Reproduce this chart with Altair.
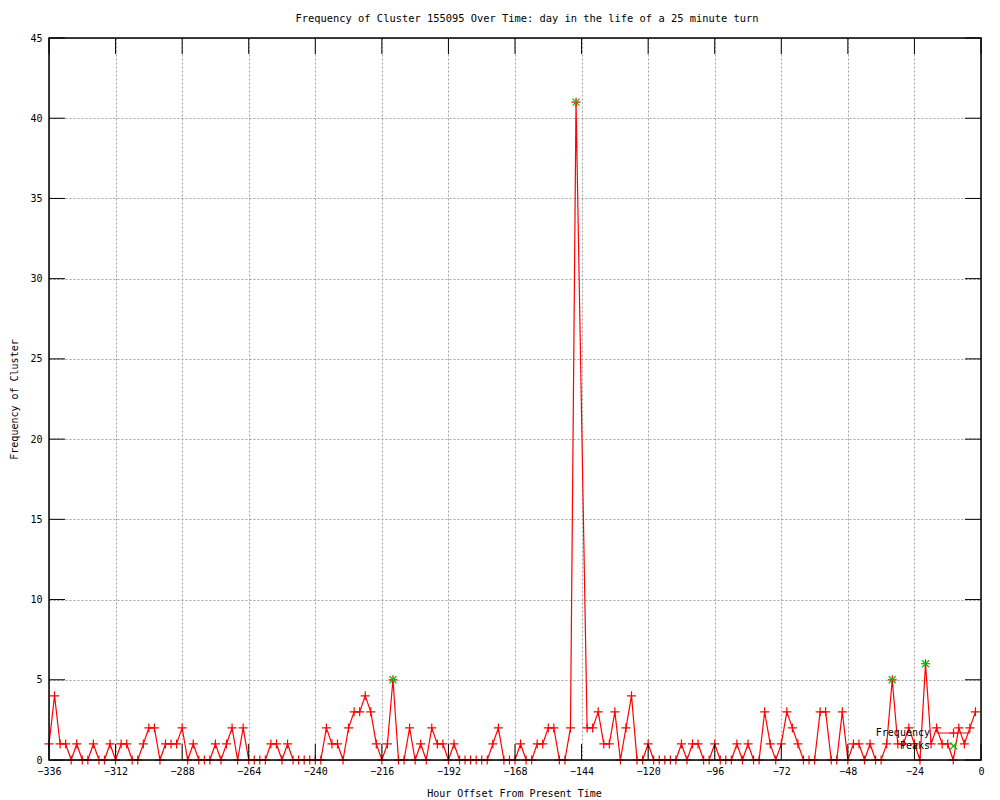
import altair as alt
import pandas as pd

# ---- data ----
hours = list(range(-336, 0, 2))
freq = [1, 4, 1, 1, 0, 1, 0, 0, 1, 0,
        0, 1, 0, 1, 1, 0, 0, 1, 2, 2,
        0, 1, 1, 1, 2, 0, 1, 0, 0, 0,
        1, 0, 1, 2, 0, 2, 0, 0, 0, 0,
        1, 1, 0, 1, 0, 0, 0, 0, 0, 0,
        2, 1, 1, 0, 2, 3, 3, 4, 3, 1,
        0, 1, 5, 0, 0, 2, 0, 1, 0, 2,
        1, 1, 0, 1, 0, 0, 0, 0, 0, 0,
        1, 2, 0, 0, 0, 1, 0, 0, 1, 1,
        2, 2, 0, 0, 2, 41, None, 2, 2, 3,
        1, 1, 3, 0, 2, 4, 0, 0, 1, 0,
        0, 0, 0, 0, 1, 0, 1, 1, 0, 0,
        1, 0, 0, 0, 1, 0, 1, 0, 0, 3,
        1, 0, 1, 3, 2, 1, 0, 0, 0, 3,
        3, 0, 0, 3, 0, 1, 1, 0, 1, 0,
        0, 1, 5, 1, 1, 2, 1, 0, 6, 1,
        2, 1, 1, 0, 2, 1, 2, 3]
peak_hours = [-212, -146, -32, -20]
peak_freq = [5, 41, 5, 6]
x_ticks = list(range(-336, 1, 24))
y_ticks = list(range(0, 46, 5))

title_text = "Frequency of Cluster 155095 Over Time: day in the life of a 25 minute turn"
x_title = "Hour Offset From Present Time"
y_title = "Frequency of Cluster"

W, H = 932, 722
FONT = "DejaVu Sans Mono"
RED = "#ff0000"
GREEN = "#00c000"
PLUS = "M-1,0L1,0M0,-1L0,1"
XSHAPE = "M-1,-1L1,1M-1,1L1,-1"

df = pd.DataFrame({"hour": hours, "freq": freq}).dropna()
peaks = pd.DataFrame({"hour": peak_hours, "freq": peak_freq})
xt = pd.DataFrame({"hour": x_ticks})
yt = pd.DataFrame({"freq": y_ticks})
one = pd.DataFrame({"a": [0]})

xscale = alt.Scale(domain=[-336, 0], nice=False, zero=False)
yscale = alt.Scale(domain=[0, 45], nice=False, zero=False)

x_axis = alt.Axis(values=x_ticks, ticks=False, domain=False, grid=True,
                  gridColor="#a0a0a0", gridDash=[2, 2], gridWidth=1,
                  labelFont=FONT, labelFontSize=10, labelColor="black",
                  labelPadding=6, labelFlush=False, labelOverlap=False,
                  title=x_title, titleFont=FONT, titleFontSize=10,
                  titleFontWeight="normal", titleColor="black",
                  titleX=465, titleY=33, titleBaseline="middle", titleAlign="center")
y_axis = alt.Axis(values=y_ticks, ticks=False, domain=False, grid=True,
                  gridColor="#a0a0a0", gridDash=[2, 2], gridWidth=1,
                  labelFont=FONT, labelFontSize=10, labelColor="black",
                  labelPadding=7, labelFlush=False, labelOverlap=False,
                  title=y_title, titleFont=FONT, titleFontSize=10,
                  titleFontWeight="normal", titleColor="black",
                  titleX=-35, titleY=361, titleAngle=270,
                  titleBaseline="middle", titleAlign="center")

line = alt.Chart(df).mark_line(color=RED, strokeWidth=1.2).encode(
    x=alt.X("hour:Q", scale=xscale, axis=x_axis),
    y=alt.Y("freq:Q", scale=yscale, axis=y_axis),
)
pts = alt.Chart(df).mark_point(shape=PLUS, size=81, filled=False, color=RED,
                               strokeWidth=1.2, opacity=1).encode(
    x="hour:Q", y="freq:Q")
pk = alt.Chart(peaks).mark_point(shape=XSHAPE, size=49, filled=False, color=GREEN,
                                 strokeWidth=1.2, opacity=1).encode(
    x="hour:Q", y="freq:Q")

xtick_b = alt.Chart(xt).mark_rule(color="black", strokeWidth=1).encode(
    x="hour:Q", y=alt.value(H), y2=alt.value(H - 16))
xtick_t = alt.Chart(xt).mark_rule(color="black", strokeWidth=1).encode(
    x="hour:Q", y=alt.value(0), y2=alt.value(16))
ytick_l = alt.Chart(yt).mark_rule(color="black", strokeWidth=1).encode(
    y="freq:Q", x=alt.value(0), x2=alt.value(16))
ytick_r = alt.Chart(yt).mark_rule(color="black", strokeWidth=1).encode(
    y="freq:Q", x=alt.value(W - 16), x2=alt.value(W))

border = alt.Chart(one).mark_rect(fillOpacity=0, stroke="black", strokeWidth=1.5).encode(
    x=alt.value(0), x2=alt.value(W), y=alt.value(0), y2=alt.value(H))

leg_t1 = alt.Chart(one).mark_text(text="Frequency", align="right", baseline="middle",
                                  font=FONT, fontSize=10, color="black").encode(
    x=alt.value(881), y=alt.value(695))
leg_t2 = alt.Chart(one).mark_text(text="Peaks", align="right", baseline="middle",
                                  font=FONT, fontSize=10, color="black").encode(
    x=alt.value(881), y=alt.value(708))
leg_l1 = alt.Chart(one).mark_rule(color=RED, strokeWidth=1.2).encode(
    x=alt.value(888), x2=alt.value(921), y=alt.value(695))
leg_p1 = alt.Chart(one).mark_point(shape=PLUS, size=81, filled=False, color=RED,
                                   strokeWidth=1.2, opacity=1).encode(
    x=alt.value(904.5), y=alt.value(695))
leg_p2 = alt.Chart(one).mark_point(shape=XSHAPE, size=49, filled=False, color=GREEN,
                                   strokeWidth=1.2, opacity=1).encode(
    x=alt.value(904.5), y=alt.value(708))

chart = alt.layer(
    line, pts, pk, xtick_b, xtick_t, ytick_l, ytick_r, border,
    leg_t1, leg_t2, leg_l1, leg_p1, leg_p2
).properties(
    width=W, height=H,
    title=alt.TitleParams(text=title_text, font=FONT, fontSize=10.4,
                          fontWeight="normal", color="black",
                          anchor="middle", offset=9, dx=12),
    autosize=alt.AutoSizeParams(type="none"),
    padding={"left": 41, "top": 30, "right": 11, "bottom": 40},
).configure_view(strokeWidth=0).configure(background="white")

chart.save("out.html", embed_options={"renderer": "svg", "actions": False})
